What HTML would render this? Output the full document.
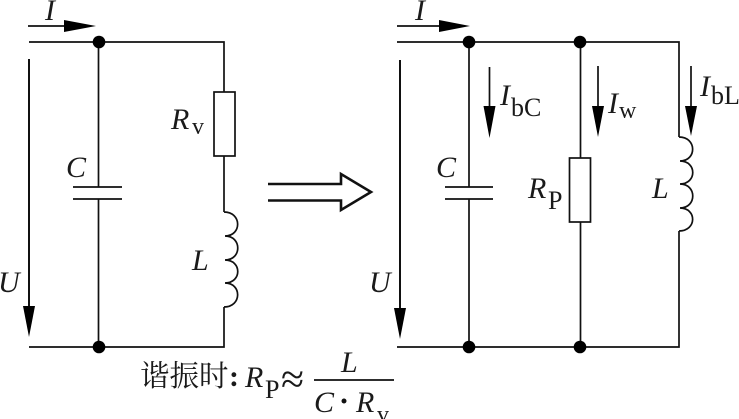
<!DOCTYPE html>
<html><head><meta charset="utf-8"><style>
html,body{margin:0;padding:0;background:#fff;width:739px;height:419px;overflow:hidden}
svg{display:block}
text{font-family:"Liberation Serif","Noto Serif CJK SC",serif;fill:#1a1a1a}
.i{font-style:italic;font-size:30px}
.s{font-size:26px}
.t{font-size:24px}
</style></head><body>
<svg width="739" height="419" viewBox="0 0 739 419" xmlns="http://www.w3.org/2000/svg">
<g fill="none" stroke="#111" stroke-width="1.7">
<path d="M29 42H224V92M224 156V212M224 307V347H29"/>
<path d="M98.5 42V187M98.5 199V347"/>
<path d="M73 187H122M73 199H122"/>
<rect x="214" y="92" width="21" height="64"/>
<path d="M224 212C242 212 242 236 225 236C242 236 242 260 225 260C242 260 242 283 225 283C242 283 242 307 224 307"/>
<path d="M397 42H679V137M679 231V347H397"/>
<path d="M469 42V187M469 199V347"/>
<path d="M445 187H493M445 199H493"/>
<path d="M580.5 42V158M580.5 222V347"/>
<rect x="569.5" y="158" width="21" height="64"/>
<path d="M679 137C697 137 697 161 680 161C697 161 697 184 680 184C697 184 697 208 680 208C697 208 697 231 679 231"/>
<path d="M268 184H341V174L371 192L341 210V200.5H268" stroke-width="2.6"/>
<path d="M28 26H70M397 26H445"/>
<path d="M29 59V310M400 60V312" stroke-width="2"/>
<path d="M489.500 67V110M598 66V110M691 66V110"/>
</g>
<g fill="#000">
<circle cx="99" cy="42" r="6.300"/><circle cx="99" cy="347" r="6.300"/>
<circle cx="469" cy="42" r="6.300"/><circle cx="580" cy="42" r="6.300"/>
<circle cx="469" cy="347" r="6.300"/><circle cx="580" cy="347" r="6.300"/>
<path d="M64 20L96 26L64 32Z"/>
<path d="M439 20L470 26L439 32Z"/>
<path d="M23 306H35L29 337Z"/>
<path d="M394 308H406L400 339Z"/>
<path d="M483.500 106H495.500L489.500 138Z"/>
<path d="M592 106H604L598 137Z"/>
<path d="M685 106H697L691 136Z"/>
</g>
<text class="i" x="45" y="20">I</text>
<text class="i" x="171" y="129">R</text><text class="t" x="192" y="134">v</text>
<text class="i" x="66" y="177">C</text>
<text class="i" x="-2" y="292">U</text>
<text class="i" x="192" y="270">L</text>
<text class="i" x="415" y="20">I</text>
<text class="i" x="436" y="177">C</text>
<text class="i" x="369" y="292">U</text>
<text class="i" x="500" y="105">I</text><text class="s" x="511" y="116">bC</text>
<text class="i" x="608" y="113">I</text><text class="t" x="619" y="118">w</text>
<text class="i" x="700" y="96">I</text><text class="s" x="711" y="104">bL</text>
<text class="i" x="528" y="198">R</text><text class="s" x="548" y="209">P</text>
<text class="i" x="652" y="198">L</text>
<text x="140" y="386" style="font-size:29.500px">谐振时</text>
<text x="229" y="386" style="font-size:30px;font-weight:bold">:</text>
<text class="i" x="245" y="387">R</text><text class="s" x="265" y="398">P</text>
<text x="281" y="393" style="font-size:42px">≈</text>
<path d="M314 380H394" stroke="#111" stroke-width="1.700"/>
<text class="i" x="341" y="372">L</text>
<text class="i" x="314" y="412">C</text>
<circle cx="344" cy="401" r="2.500" fill="#111"/>
<text class="i" x="356" y="412">R</text><text class="t" x="377" y="422">v</text>
</svg>
</body></html>
